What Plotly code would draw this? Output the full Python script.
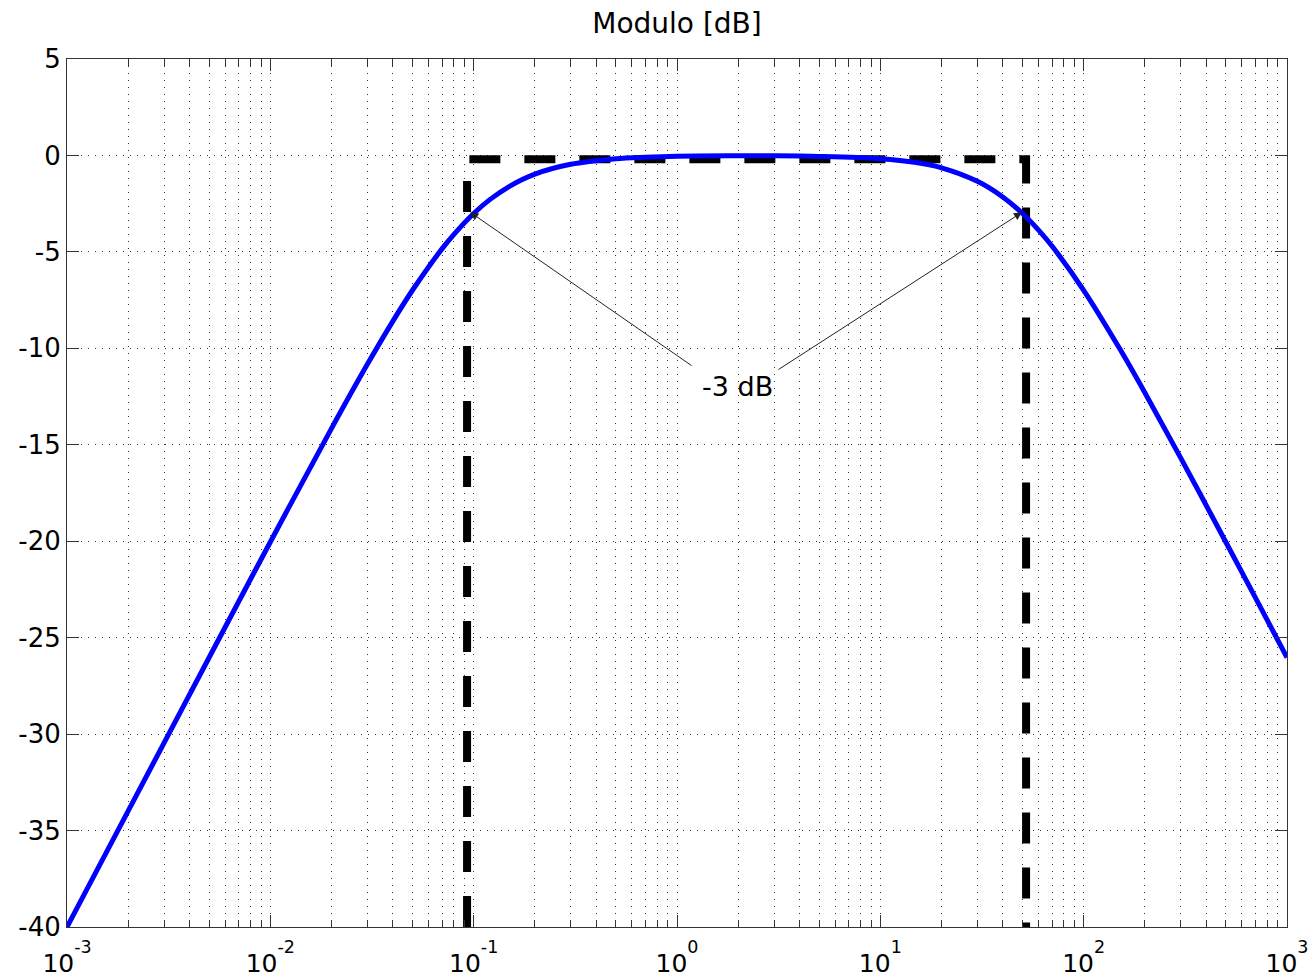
import math
import plotly.graph_objects as go

# ---- data ----
freq = [0.001, 0.002, 0.005, 0.01, 0.02, 0.03, 0.04, 0.05, 0.07, 0.08, 0.1, 0.12,
        0.15, 0.2, 0.3, 0.5, 0.7, 1, 2, 3, 5, 10, 15, 20, 30, 40, 50, 60, 70,
        100, 150, 200, 300, 500, 700, 1000]
mag_db = [-40.0, -33.98, -26.03, -20.04, -14.15, -10.83, -8.60, -6.99, -4.83, -4.09,
          -3.01, -2.29, -1.60, -0.97, -0.46, -0.17, -0.09, -0.04, -0.02, -0.02,
          -0.05, -0.17, -0.37, -0.64, -1.34, -2.15, -3.01, -3.87, -4.71, -6.99,
          -10.0, -12.30, -15.68, -20.04, -22.94, -26.03]

# ideal band (dashed black)
band_x = [0.0928, 0.0928, 52.1, 52.1]
band_y = [-40, -0.2, -0.2, -40]

# -3 dB annotation
label_text = "-3 dB"
label_pos = (1.975, -12.0)          # (freq, dB)
arrow_tips = [(0.0963, -2.95), (49.7, -2.95)]
arrow_tails = [(1.20, -10.95), (3.10, -11.15)]

x_major = [1e-3, 1e-2, 1e-1, 1, 10, 100, 1000]
x_exponents = ["-3", "-2", "-1", "0", "1", "2", "3"]
x_minor = [m * d for d in [1e-3, 1e-2, 1e-1, 1, 10, 100] for m in range(2, 10)]
y_ticks = [-40, -35, -30, -25, -20, -15, -10, -5, 0, 5]
y_ticktext = ["-40", "-35", "-30", "-25", "-20", "-15", "-10", "-5", "0", "5"]

x_major_text = ["10<sup><span style='baseline-shift:9px'>%s</span></sup>" % e
                for e in x_exponents]

FONT = "DejaVu Sans, Liberation Sans, Arial, sans-serif"

fig = go.Figure()
fig.add_trace(go.Scatter(x=band_x, y=band_y, mode="lines",
                         line=dict(color="black", width=8, dash="31px,24px"),
                         hoverinfo="skip", showlegend=False))
fig.add_trace(go.Scatter(x=freq, y=mag_db, mode="lines",
                         line=dict(color="#0000FF", width=5, shape="spline"),
                         showlegend=False))

for (tx, ty), (ax, ay) in zip(arrow_tips, arrow_tails):
    fig.add_annotation(x=math.log10(tx), y=ty, ax=math.log10(ax), ay=ay,
                       xref="x", yref="y", axref="x", ayref="y",
                       text="", showarrow=True, arrowhead=2, arrowsize=1.6,
                       arrowwidth=1, arrowcolor="#222222", standoff=0)
fig.add_annotation(x=math.log10(label_pos[0]), y=label_pos[1], xref="x", yref="y",
                   text=label_text, showarrow=False,
                   font=dict(family=FONT, size=27, color="black"))

grid = dict(gridcolor="#333333", gridwidth=1, griddash="1px,6px")

fig.update_xaxes(type="log", range=[-3, 3], tickmode="array", tickvals=x_major,
                 ticktext=x_major_text, ticks="inside", ticklen=12, tickcolor="#333",
                 showline=True, linecolor="#333", linewidth=1, mirror="ticks",
                 showgrid=True, zeroline=False, automargin=False,
                 ticklabelstandoff=14,
                 tickfont=dict(family=FONT, size=25, color="black"),
                 minor=dict(tickvals=x_minor, ticks="inside", ticklen=7, tickcolor="#333",
                            showgrid=True, **grid),
                 **grid)
fig.update_yaxes(range=[-40, 5], tickmode="array", tickvals=y_ticks,
                 ticktext=y_ticktext,
                 ticks="inside", ticklen=12, tickcolor="#333",
                 showline=True, linecolor="#333", linewidth=1, mirror="ticks",
                 showgrid=True, zeroline=False, automargin=False,
                 tickfont=dict(family=FONT, size=26, color="black"),
                 **grid)

fig.update_layout(
    width=1315, height=980,
    margin=dict(l=67, r=28, t=59, b=53),
    paper_bgcolor="white", plot_bgcolor="white",
    title=dict(text="Modulo [dB]", x=(67 + 1287) / 2 / 1315, xref="container", xanchor="center",
               y=1 - 23 / 980, yanchor="middle",
               font=dict(family=FONT, size=28, color="black")),
    showlegend=False,
)

fig.write_html("out.html", config={"displayModeBar": False},
               post_script="document.body.style.margin='0px';document.body.style.overflow='hidden';")
